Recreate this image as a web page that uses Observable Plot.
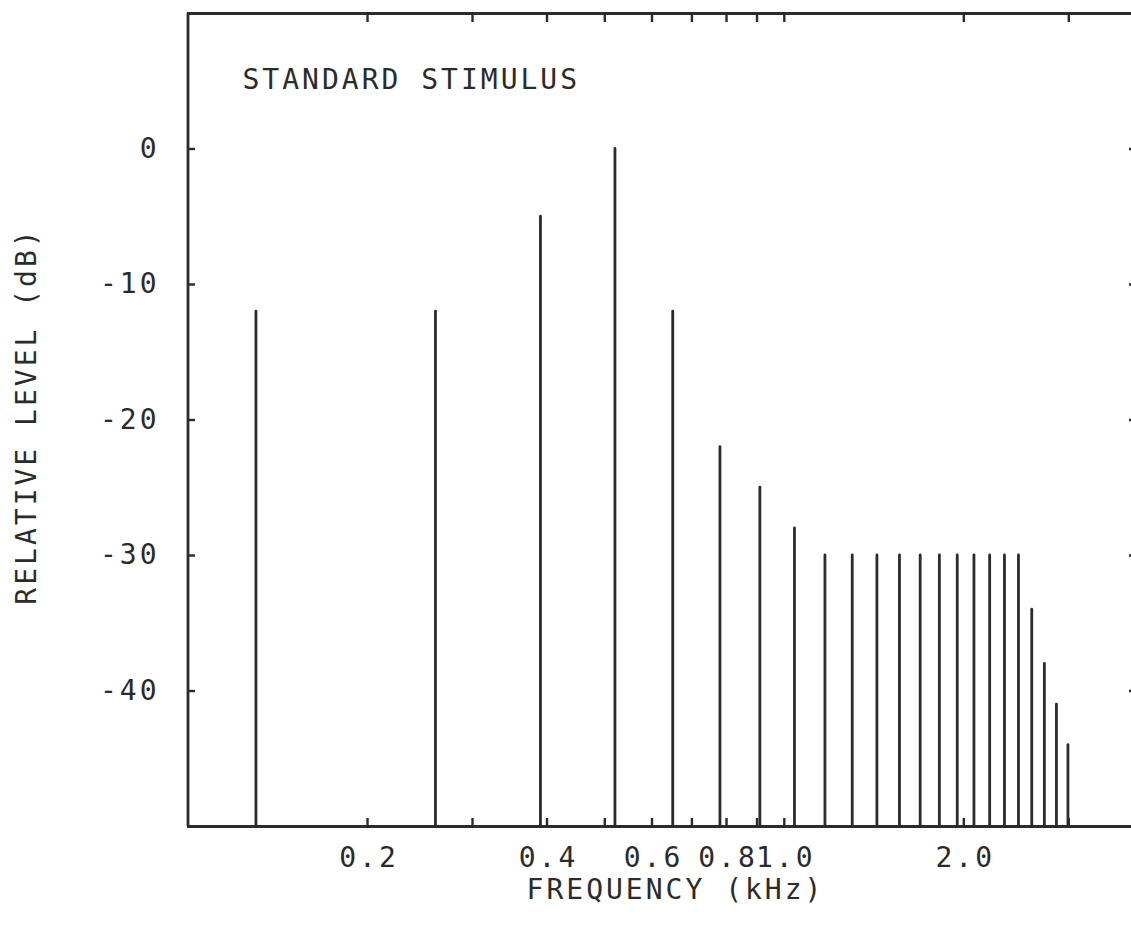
<!DOCTYPE html>
<html>
<head>
<meta charset="utf-8">
<script src="https://cdn.jsdelivr.net/npm/d3@7"></script>
<script src="https://cdn.jsdelivr.net/npm/@observablehq/plot@0.6"></script>
<style>
  html, body { margin: 0; padding: 0; background: #fff; overflow: hidden; }
</style>
</head>
<body>
<div id="chart"></div>
<script>
// Harmonic frequencies (kHz)
const frequencies = [0.13, 0.26, 0.39, 0.52, 0.65, 0.78, 0.91, 1.04, 1.17, 1.30, 1.43, 1.56,
                     1.69, 1.82, 1.95, 2.08, 2.21, 2.34, 2.47, 2.60, 2.73, 2.86, 2.99];
// Relative level (dB) of each component
const levels = [-12, -12, -5, 0, -12, -22, -25, -28, -30, -30, -30, -30,
                -30, -30, -30, -30, -30, -30, -30, -34, -38, -41, -44];
// Axis ticks
const xTickValues = [0.2, 0.3, 0.4, 0.5, 0.6, 0.7, 0.8, 0.9, 1.0, 2.0, 3.0];
const xTickLabels = [0.2, 0.4, 0.6, 0.8, 1.0, 2.0];
const yTickValues = [0, -10, -20, -30, -40];
const xDomain = [0.1, 4];
const yDomain = [-50, 10];
const title = "STANDARD STIMULUS";
const xLabel = "FREQUENCY (kHz)";
const yLabel = "RELATIVE LEVEL (dB)";

const data = frequencies.map((f, i) => ({f, level: levels[i]}));
const ink = "#2b2b2b";

const chart = Plot.plot({
  width: 1131,
  height: 925,
  marginLeft: 187,
  marginRight: 0,
  marginTop: 13,
  marginBottom: 99,
  style: {
    fontFamily: "'DejaVu Sans Mono', monospace",
    fontSize: "28px",
    letterSpacing: "3px",
    color: ink,
    background: "#fff",
    overflow: "hidden"
  },
  x: {type: "log", domain: xDomain, range: [187.5, 1142.8]},
  y: {domain: yDomain},
  marks: [
    Plot.ruleX(data, {x: "f", y1: yDomain[0], y2: "level", stroke: ink, strokeWidth: 2.8, strokeLinecap: "round"}),
    // frame: left, top and bottom edges (right edge lies just outside the picture)
    Plot.ruleX([xDomain[0]], {stroke: ink, strokeWidth: 2.8}),
    Plot.ruleY(yDomain, {stroke: ink, strokeWidth: 2.8}),
    // inward tick marks
    Plot.axisX(xTickValues, {anchor: "bottom", tickSize: 8, dy: -8, fill: "none", stroke: ink, strokeWidth: 2.4, label: null}),
    Plot.axisX(xTickValues, {anchor: "top", tickSize: 8, dy: 8, fill: "none", stroke: ink, strokeWidth: 2.4, label: null}),
    Plot.axisY(yTickValues, {anchor: "left", tickSize: 8, dx: 8, fill: "none", stroke: ink, strokeWidth: 2.4, label: null}),
    Plot.axisY(yTickValues, {anchor: "right", tickSize: 8, dx: -3, fill: "none", stroke: ink, strokeWidth: 2.4, label: null}),
    // tick labels
    Plot.axisX(xTickLabels, {anchor: "bottom", tickSize: 0, tickPadding: 21, tickFormat: d => d.toFixed(1), fill: ink, label: null, dx: 1.5}),
    Plot.axisY(yTickValues, {anchor: "left", tickSize: 0, tickPadding: 28, tickFormat: d => String(d), fill: ink, label: null}),
    // titles
    Plot.text([title], {frameAnchor: "top-left", textAnchor: "start", lineAnchor: "middle", dx: 55, dy: 67, fill: ink}),
    Plot.text([xLabel], {frameAnchor: "bottom", textAnchor: "middle", lineAnchor: "middle", dx: 16, dy: 64, fill: ink}),
    Plot.text([yLabel], {frameAnchor: "left", textAnchor: "middle", lineAnchor: "middle", rotate: -90, dx: -160, dy: -4, fill: ink})
  ]
});
document.getElementById("chart").appendChild(chart);
</script>
</body>
</html>
